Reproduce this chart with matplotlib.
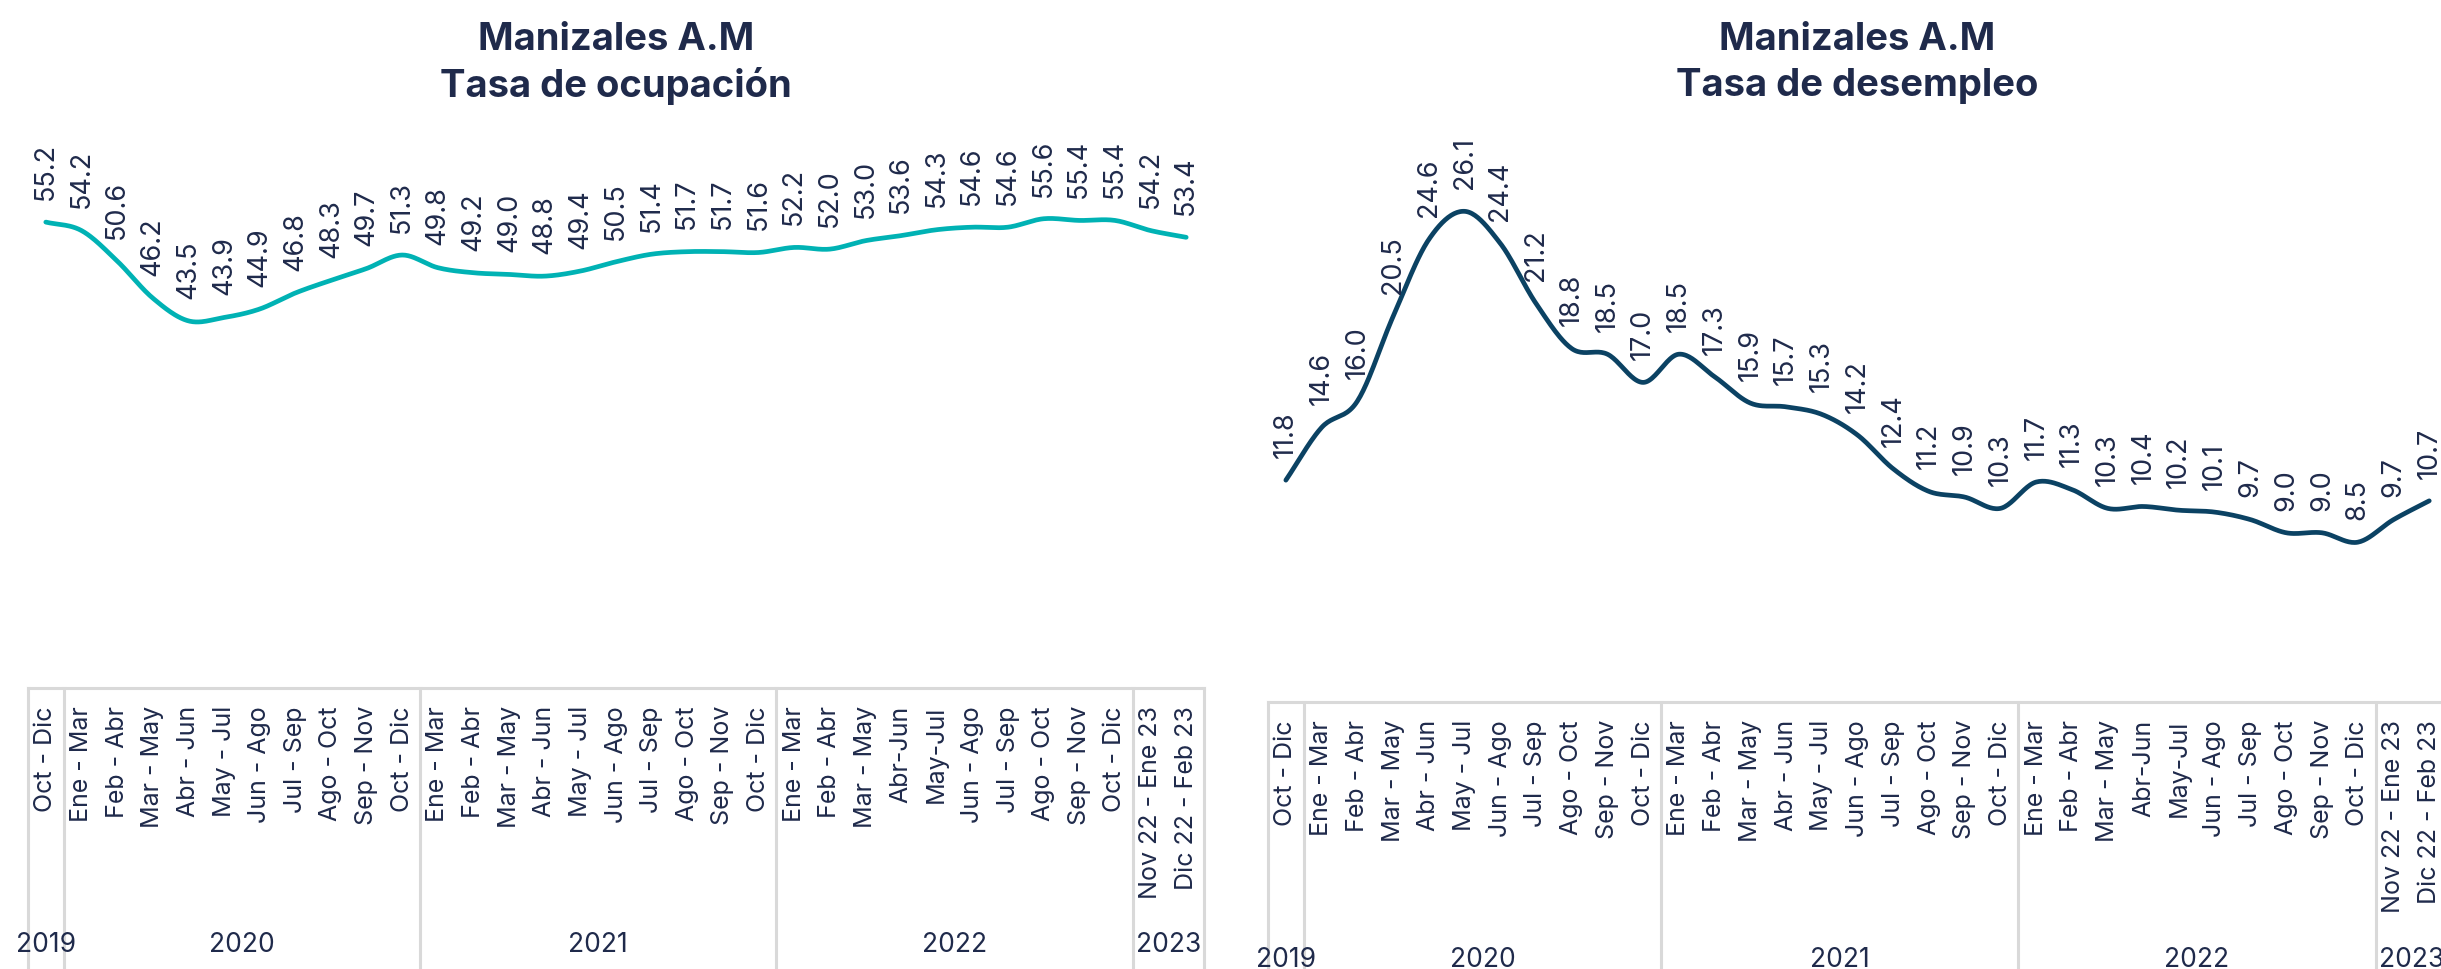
import numpy as np
import matplotlib
matplotlib.use("Agg")
import matplotlib.pyplot as plt

plt.rcParams['font.family'] = ['Inter', 'DejaVu Sans']

# ---------------- data ----------------
periods = ["Oct - Dic",
           "Ene - Mar", "Feb - Abr", "Mar - May", "Abr - Jun", "May - Jul", "Jun - Ago",
           "Jul - Sep", "Ago - Oct", "Sep - Nov", "Oct - Dic",
           "Ene - Mar", "Feb - Abr", "Mar - May", "Abr - Jun", "May - Jul", "Jun - Ago",
           "Jul - Sep", "Ago - Oct", "Sep - Nov", "Oct - Dic",
           "Ene - Mar", "Feb - Abr", "Mar - May", "Abr-Jun", "May-Jul", "Jun - Ago",
           "Jul - Sep", "Ago - Oct", "Sep - Nov", "Oct - Dic",
           "Nov 22 - Ene 23", "Dic 22 - Feb 23"]
years = ["2019", "2020", "2021", "2022", "2023"]
year_sizes = [1, 10, 10, 10, 2]

ocupacion = [55.2, 54.2, 50.6, 46.2, 43.5, 43.9, 44.9, 46.8, 48.3, 49.7, 51.3,
             49.8, 49.2, 49.0, 48.8, 49.4, 50.5, 51.4, 51.7, 51.7, 51.6,
             52.2, 52.0, 53.0, 53.6, 54.3, 54.6, 54.6, 55.6, 55.4, 55.4,
             54.2, 53.4]
desempleo = [11.8, 14.6, 16.0, 20.5, 24.6, 26.1, 24.4, 21.2, 18.8, 18.5, 17.0,
             18.5, 17.3, 15.9, 15.7, 15.3, 14.2, 12.4, 11.2, 10.9, 10.3,
             11.7, 11.3, 10.3, 10.4, 10.2, 10.1, 9.7, 9.0, 9.0, 8.5,
             9.7, 10.7]

TXT = "#1f2a4b"
GRID = "#d9d9d9"
W, H = 2441, 969


def smooth(x, y, n=24):
    x = np.asarray(x, float)
    y = np.asarray(y, float)
    P = np.column_stack([x, y])
    P = np.vstack([2 * P[0] - P[1], P, 2 * P[-1] - P[-2]])
    out = []
    t = np.linspace(0, 1, n, endpoint=False)
    for i in range(1, len(P) - 2):
        p0, p1, p2, p3 = P[i - 1], P[i], P[i + 1], P[i + 2]
        tt = t[:, None]
        seg = 0.5 * ((2 * p1) + (-p0 + p2) * tt + (2 * p0 - 5 * p1 + 4 * p2 - p3) * tt ** 2
                     + (-p0 + 3 * p1 - 3 * p2 + p3) * tt ** 3)
        out.append(seg)
    out.append(P[-2][None, :])
    S = np.vstack(out)
    return S[:, 0], S[:, 1]


def panel(fig, rect_px, ylim, values, color, title2, year_off_px):
    l, top, w, h = rect_px
    ax = fig.add_axes([l / W, (H - top - h) / H, w / W, h / H])
    n = len(values)
    xs = np.arange(n)
    sx, sy = smooth(xs, values)
    ax.plot(sx, sy, color=color, lw=3.4, solid_capstyle='round', zorder=3)
    for xi, v in zip(xs, values):
        ax.annotate(f"{v:.1f}", xy=(xi, v), xytext=(0, 16), textcoords='offset points',
                    rotation=90, ha='center', va='bottom', fontsize=19.5, color=TXT)
    ax.set_xlim(-0.5, n - 0.5)
    ax.set_ylim(*ylim)
    ax.set_xticks(xs)
    ax.set_xticklabels(periods, rotation=90, va='top', ha='center', fontsize=18, color=TXT)
    ax.tick_params(axis='x', length=0, pad=13)
    ax.set_yticks([])
    for s in ax.spines.values():
        s.set_visible(False)
    tr = ax.get_xaxis_transform()
    depth = -(H) / h  # reaches below figure bottom
    ax.plot([-0.5, n - 0.5], [0, 0], transform=tr, color=GRID, lw=2.2, clip_on=False, zorder=1)
    bounds = np.concatenate([[0], np.cumsum(year_sizes)]) - 0.5
    for b in bounds:
        ax.plot([b, b], [0, depth], transform=tr, color=GRID, lw=2.2, clip_on=False, zorder=1)
    for i, yr in enumerate(years):
        cx = (bounds[i] + bounds[i + 1]) / 2
        ax.annotate(yr, xy=(cx, 0), xycoords=tr, xytext=(0, -year_off_px * 0.72),
                    textcoords='offset points', ha='center', va='center',
                    fontsize=19, color=TXT, annotation_clip=False)
    cxp = l + w / 2
    fig.text(cxp / W, 1 - 40 / H, "Manizales A.M", ha='center', va='center',
             fontsize=27.5, fontweight='bold', color=TXT)
    fig.text(cxp / W, 1 - 86 / H, title2, ha='center', va='center',
             fontsize=27.5, fontweight='bold', color=TXT)
    return ax


fig = plt.figure(figsize=(W / 100, H / 100), dpi=100)
fig.patch.set_facecolor('white')

# left panel: x 28..1204, axis line at y=688 px, 8.44 px per unit
panel(fig, (28, 688 - 70 * 8.44, 1176, 70 * 8.44), (0, 70), ocupacion, "#00b2b4",
      "Tasa de ocupación", 945 - 688)
# right panel: x 1268.., axis line at y=702 px, 18.8 px per unit
panel(fig, (1268, 702 - 30 * 18.8, 33 * 35.73, 30 * 18.8), (0, 30), desempleo, "#0b4263",
      "Tasa de desempleo", 960 - 702)

fig.savefig("out.png", dpi=100, facecolor='white')
